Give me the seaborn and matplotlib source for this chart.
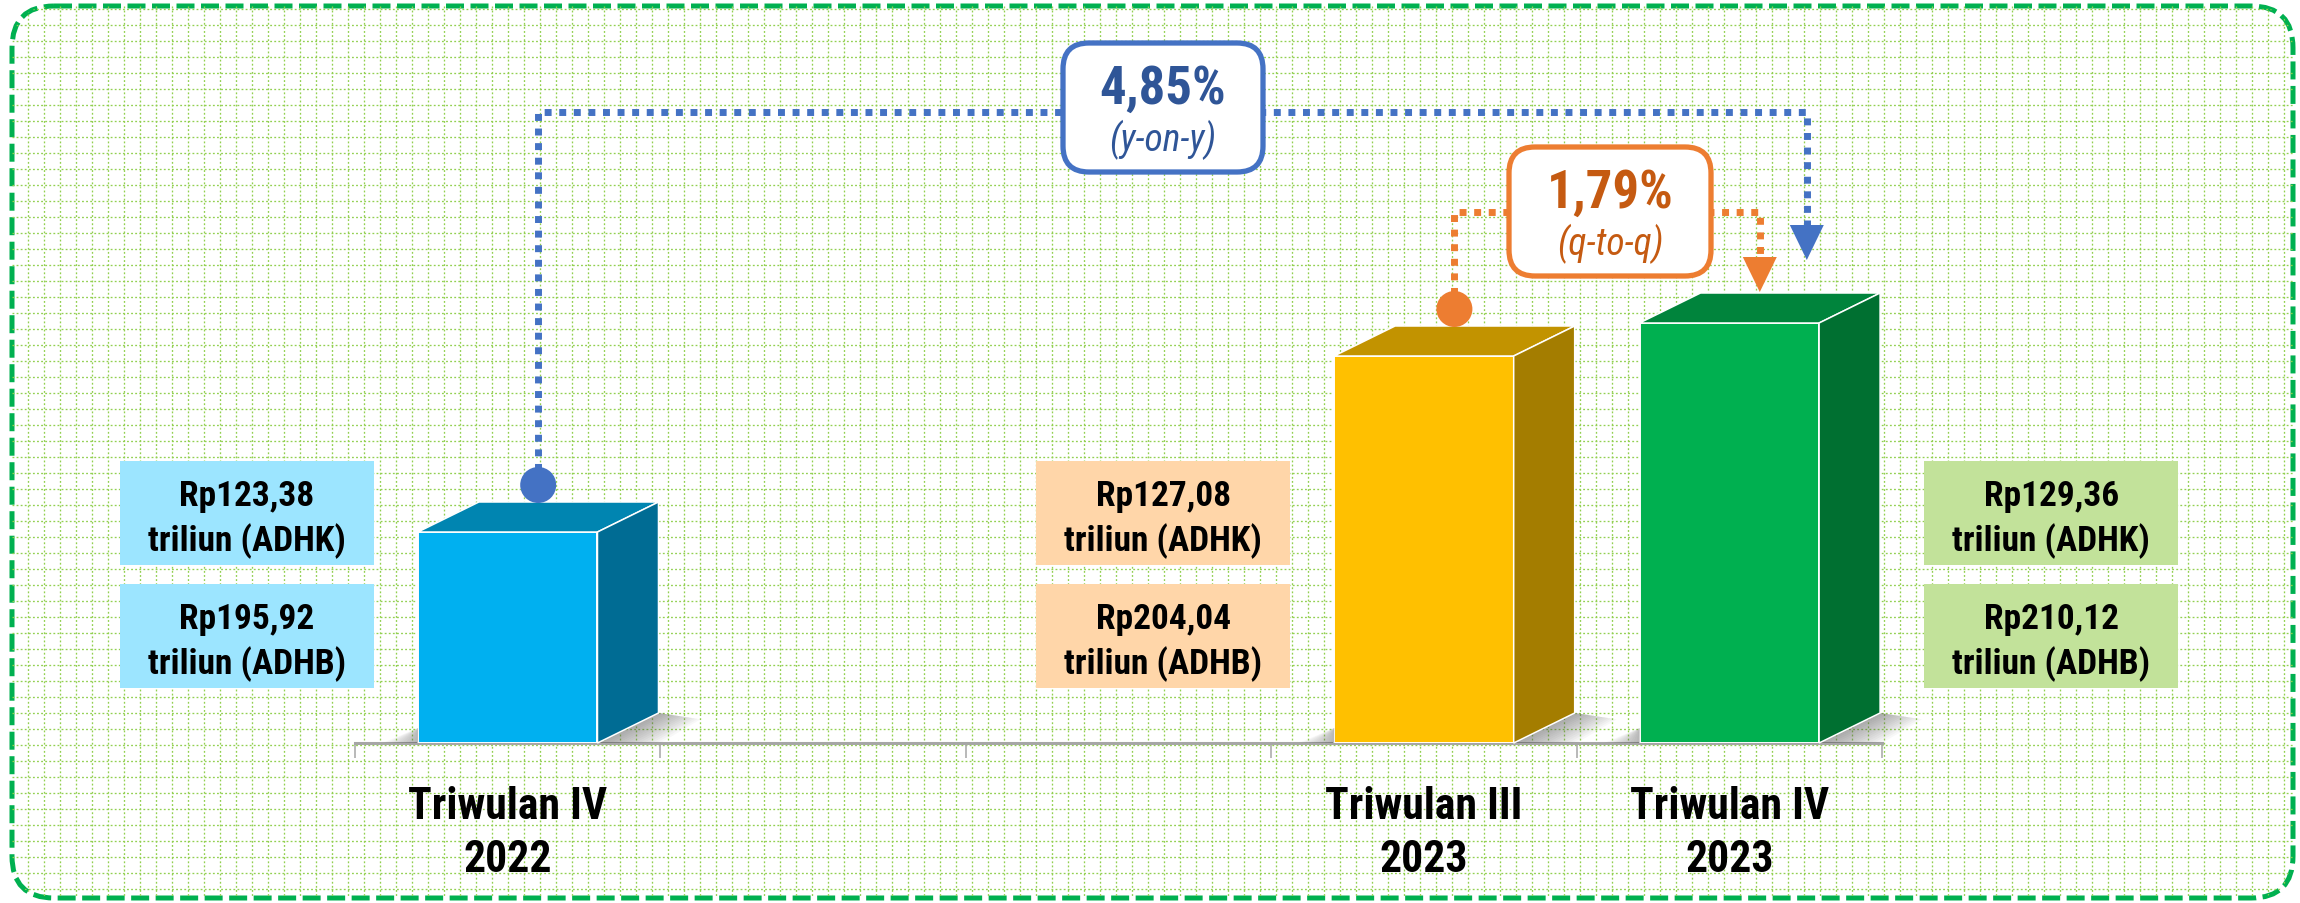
import numpy as np
import pandas as pd
import matplotlib
matplotlib.use("Agg")
import matplotlib.pyplot as plt
import seaborn as sns
from matplotlib import font_manager
from matplotlib.patches import Polygon, FancyBboxPatch, Circle, Rectangle
from matplotlib.lines import Line2D

# ---------------- data ----------------
categories = ["Triwulan IV\n2022", "kosong_1", "kosong_2", "Triwulan III\n2023", "Triwulan IV\n2023"]
tick_labels = ["Triwulan IV\n2022", "", "", "Triwulan III\n2023", "Triwulan IV\n2023"]
bar_categories = ["Triwulan IV\n2022", "Triwulan III\n2023", "Triwulan IV\n2023"]
bar_heights = [211, 387, 420]          # visual bar heights
adhk_values = ["123,38", "127,08", "129,36"]
adhb_values = ["195,92", "204,04", "210,12"]
growth_yoy = "4,85%"
growth_qtq = "1,79%"
label_yoy = "(y-on-y)"
label_qtq = "(q-to-q)"

front_colors = ["#00B0F0", "#FFC000", "#00B050"]
top_colors = ["#0085B1", "#C29300", "#00843C"]
side_colors = ["#006C94", "#A47D00", "#007031"]
box_colors = ["#9CE5FF", "#FFD6A9", "#C2E29A"]

# ---------------- fonts ----------------
names = {f.name for f in font_manager.fontManager.ttflist}
FONT = "Liberation Sans"
for cand in ["Liberation Sans Narrow", "Roboto Condensed", "Open Sans Condensed", "Arial Narrow"]:
    if cand in names:
        FONT = cand
        break

sns.set_theme(style="white")
plt.rcParams["font.family"] = [FONT, "DejaVu Sans"]

W, H = 2300, 904
fig = plt.figure(figsize=(W / 100, H / 100), dpi=100)

# ---------------- background: dotted grid + dashed rounded border ----------------
bg = fig.add_axes([0, 0, 1, 1])
bg.set_xlim(0, W)
bg.set_ylim(H, 0)
bg.axis("off")
bg.set_zorder(0)

BX0, BY0, BX1, BY1 = 12, 7, 2293, 899
clip = FancyBboxPatch((BX0, BY0), BX1 - BX0, BY1 - BY0,
                      boxstyle="round,pad=0,rounding_size=42",
                      fc="none", ec="none")
bg.add_patch(clip)
xs = np.arange(28.3, BX1, 16.0)
ys = np.arange(9.7, BY1, 16.0)
grid_kw = dict(colors="#92D050", linewidth=0.95, linestyles=(0, (1.4, 1.7)))
vl = bg.vlines(xs, BY0, BY1, **grid_kw)
hl = bg.hlines(ys, BX0, BX1, **grid_kw)
vl.set_clip_path(clip)
hl.set_clip_path(clip)
border = FancyBboxPatch((BX0, BY0), BX1 - BX0, BY1 - BY0,
                        boxstyle="round,pad=0,rounding_size=42",
                        fc="none", ec="#00B050", lw=3.6, ls=(0, (3.6, 1.3)))
bg.add_patch(border)

# ---------------- main bar axes ----------------
AX_L, AX_R, AX_B = 355, 1882, 744
ax = fig.add_axes([AX_L / W, (H - AX_B) / H, (AX_R - AX_L) / W, AX_B / H])
ax.set_zorder(2)
ax.patch.set_alpha(0)

df = pd.DataFrame({"kuartal": bar_categories, "tinggi": bar_heights})
sns.barplot(data=df, x="kuartal", y="tinggi", order=categories,
            hue="kuartal", hue_order=bar_categories,
            palette=dict(zip(bar_categories, front_colors)),
            width=0.588, saturation=1, legend=False, errorbar=None,
            edgecolor="white", linewidth=1.4, ax=ax)

ax.set_xlim(-0.5, len(categories) - 0.5)
ax.set_ylim(0, AX_B)
ax.set_xlabel("")
ax.set_ylabel("")
ax.set_yticks([])
for s in ["left", "right", "top"]:
    ax.spines[s].set_visible(False)
ax.spines["bottom"].set_color("#A6A6A6")
ax.spines["bottom"].set_linewidth(2.2)
ax.spines["bottom"].set_zorder(0.5)
ax.set_xticks(range(len(categories)))
ax.set_xticklabels(tick_labels, fontsize=31.5, fontweight="bold", color="black",
                   linespacing=1.35)
ax.set_xticks(np.arange(-0.5, len(categories), 1.0), minor=True)
ax.tick_params(axis="x", which="major", length=0, pad=30)
ax.tick_params(axis="x", which="minor", length=10.8, width=1.1, color="#A6A6A6",
               direction="out", bottom=True)

# ---------------- overlay (pixel coordinates) ----------------
ov = fig.add_axes([0, 0, 1, 1])
ov.set_xlim(0, W)
ov.set_ylim(H, 0)
ov.axis("off")
ov.set_zorder(3)
ov.patch.set_alpha(0)


def to_px(x, y):
    X, Y = ax.transData.transform((x, y))
    return X, H - Y


DX, DY = 61, 30
patches = sorted([p for p in ax.patches if p.get_height() > 0], key=lambda p: p.get_x())
geo = []
for i, p in enumerate(patches):
    L, T = to_px(p.get_x(), p.get_height())
    R, B = to_px(p.get_x() + p.get_width(), 0)
    geo.append((L, R, T, B))
    # soft shadows
    for k in range(1, 16):
        e = 2.8 * k
        ov.add_patch(Polygon([(R, B), (R + DX, B - DY), (R + DX + e, B - DY + e * 0.15),
                              (R + e * 1.5, B)], closed=True, fc="#505050", ec="none",
                             alpha=0.04, zorder=1))
    for k in range(1, 12):
        e = 3.2 * k
        ov.add_patch(Polygon([(L, B), (L, B - 15), (L - e, B)], closed=True,
                             fc="#505050", ec="none", alpha=0.045, zorder=1))
    # top face
    ov.add_patch(Polygon([(L, T), (R, T), (R + DX, T - DY), (L + DX, T - DY)], closed=True,
                         fc=top_colors[i], ec="white", lw=1.1, zorder=2))
    # side face
    ov.add_patch(Polygon([(R, T), (R + DX, T - DY), (R + DX, B - DY), (R, B)], closed=True,
                         fc=side_colors[i], ec="white", lw=1.1, zorder=2))

# ---------------- value boxes ----------------
BOX_W, BOX_H, GAP = 254, 104, 44
for i, (L, R, T, B) in enumerate(geo):
    if i == len(geo) - 1:
        bx = R + DX + GAP
    else:
        bx = L - GAP - BOX_W
    for j, (val, kind) in enumerate([(adhk_values[i], "ADHK"), (adhb_values[i], "ADHB")]):
        by = 462 + j * 123
        ov.add_patch(Rectangle((bx, by), BOX_W, BOX_H, fc=box_colors[i], ec="none", zorder=4))
        ov.text(bx + BOX_W / 2, by + 44, f"Rp{val}", ha="center", va="baseline",
                fontsize=25.5, fontweight="bold", color="black", zorder=5)
        ov.text(bx + BOX_W / 2, by + 89, f"triliun ({kind})", ha="center", va="baseline",
                fontsize=25.5, fontweight="bold", color="black", zorder=5)

# ---------------- connectors ----------------
(L1, R1, T1, B1), (L2, R2, T2, B2), (L3, R3, T3, B3) = geo
c1 = ((L1 + R1) / 2 + DX / 2, T1 - DY - 17)
c2 = ((L2 + R2) / 2 + DX / 2, T2 - DY - 17)
tgt = ((L3 + R3) / 2 + DX / 2, T3 - DY)

BLUE, BLUE_T = "#4472C4", "#2F5597"
ORANGE, ORANGE_T = "#ED7D31", "#C55A11"

yoy_y, qtq_y = 113, 213
blue_x = tgt[0] + 47
blue_tip = tgt[1] - 33
orange_tip = tgt[1] - 1
AH, AW = 35, 17

ov.add_line(Line2D([c1[0], c1[0], blue_x, blue_x], [c1[1], yoy_y, yoy_y, blue_tip - AH],
                   color=BLUE, lw=5, ls=(0, (1, 1.1)), zorder=3))
ov.add_patch(Polygon([(blue_x - AW, blue_tip - AH), (blue_x + AW, blue_tip - AH), (blue_x, blue_tip)],
                     closed=True, fc=BLUE, ec="none", zorder=3))
ov.add_patch(Circle(c1, 18, fc=BLUE, ec="none", zorder=3))

ov.add_line(Line2D([c2[0], c2[0], tgt[0], tgt[0]], [c2[1], qtq_y, qtq_y, orange_tip - AH],
                   color=ORANGE, lw=5, ls=(0, (1, 1.1)), zorder=3))
ov.add_patch(Polygon([(tgt[0] - AW, orange_tip - AH), (tgt[0] + AW, orange_tip - AH), (tgt[0], orange_tip)],
                     closed=True, fc=ORANGE, ec="none", zorder=3))
ov.add_patch(Circle(c2, 18, fc=ORANGE, ec="none", zorder=3))

# ---------------- callout boxes ----------------
def callout(x0, y0, w, h, ec, tc, big, small):
    ov.add_patch(FancyBboxPatch((x0, y0), w, h, boxstyle="round,pad=0,rounding_size=26",
                                fc="white", ec=ec, lw=3.8, zorder=6))
    ov.text(x0 + w / 2, y0 + 60, big, ha="center", va="baseline", fontsize=38,
            fontweight="bold", color=tc, zorder=7)
    ov.text(x0 + w / 2, y0 + 107, small, ha="center", va="baseline", fontsize=27,
            fontstyle="italic", color=tc, zorder=7)


callout(1063, 44, 200, 129, BLUE, BLUE_T, growth_yoy, label_yoy)
callout(1509, 148, 202, 129, ORANGE, ORANGE_T, growth_qtq, label_qtq)

fig.savefig("out.png", dpi=100)
